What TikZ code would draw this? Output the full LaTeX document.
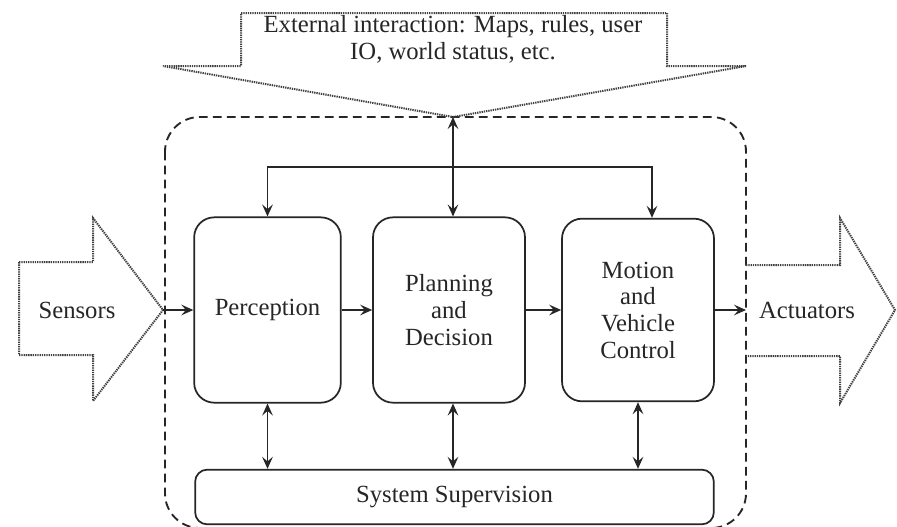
\documentclass[tikz,border=0pt]{standalone}
\usepackage{fontspec}
\setmainfont{Liberation Serif}
\usetikzlibrary{arrows.meta}
\begin{document}
\begin{tikzpicture}[x=0.75pt,y=-0.75pt,
  every node/.style={text=black!85, font=\fontsize{18.5}{20}\selectfont},
  blk/.style={draw=black!85, line width=1.3pt, rounded corners=15pt, align=center, inner sep=2pt},
  conn/.style={draw=black!85, line width=0.9pt},
  tip/.style={-{Stealth[length=9pt,width=8pt,inset=3.5pt]}},
  dtip/.style={{Stealth[length=9pt,width=8pt,inset=3.5pt]}-{Stealth[length=9pt,width=8pt,inset=3.5pt]}},
  bigarrow/.style={draw=black!75, line width=1.5pt, dash pattern=on 1pt off 0.7pt},
  frame/.style={draw=black!85, line width=1.4pt, dash pattern=on 6.5pt off 4pt, rounded corners=26pt}]
\useasboundingbox (0,0) rectangle (897,526);
\fill[white] (0,0) rectangle (897,526);

% dashed system frame
\draw[frame] (165,117) rectangle (746,528);

% external interaction arrow
\draw[bigarrow] (241,13) -- (667,13) -- (667,66) -- (746,66) -- (453,117) -- (163,66) -- (241,66) -- cycle;
\node[align=center] (ext) at (453,39) {External interaction: Maps, rules, user\\IO, world status, etc.};
\coordinate (extip) at (453,117);

% sensors arrow
\draw[bigarrow] (19,262) -- (93,262) -- (93,218) -- (163,310) -- (93,401) -- (93,355) -- (19,355) -- cycle;
\node (sens) at (77,310) {Sensors};
\coordinate (stip) at (163,310);

% actuators arrow
\draw[bigarrow] (746,265) -- (840,265) -- (840,218) -- (895,310) -- (840,403) -- (840,356) -- (746,356);
\node (act) at (807,310) {Actuators};
\coordinate (abase) at (746,310);

% blocks
\node[blk, minimum width=110pt, minimum height=139pt] (perc) at (267.5,310) {Perception};
\node[blk, minimum width=114pt, minimum height=139pt] (plan) at (449,310) {Planning\\and\\Decision};
\node[blk, minimum width=114pt, minimum height=137pt] (mot) at (638,310) {Motion\\and\\Vehicle\\Control};
\node[blk, minimum width=389pt, minimum height=41pt, rounded corners=9pt] (sup) at (454.5,497) {System Supervision};

% connectors
\draw[conn, tip] (stip) -- (perc.west);
\draw[conn, tip] (perc.east) -- (plan.west);
\draw[conn, tip] (plan.east) -- (mot.west);
\draw[conn, tip] (mot.east) -- (abase);

\draw[conn, dtip] (extip) -- (extip |- plan.north);
\coordinate (bus) at (453,167);
\draw[conn, tip] (bus) -| (perc.north);
\draw[conn, tip] (bus) -| ([xshift=10.5pt]mot.north);

\draw[conn, dtip] (perc.south) -- (perc.south |- sup.north);
\draw[conn, dtip] (extip |- plan.south) -- (extip |- sup.north);
\draw[conn, dtip] (mot.south) -- (mot.south |- sup.north);
\end{tikzpicture}
\end{document}
